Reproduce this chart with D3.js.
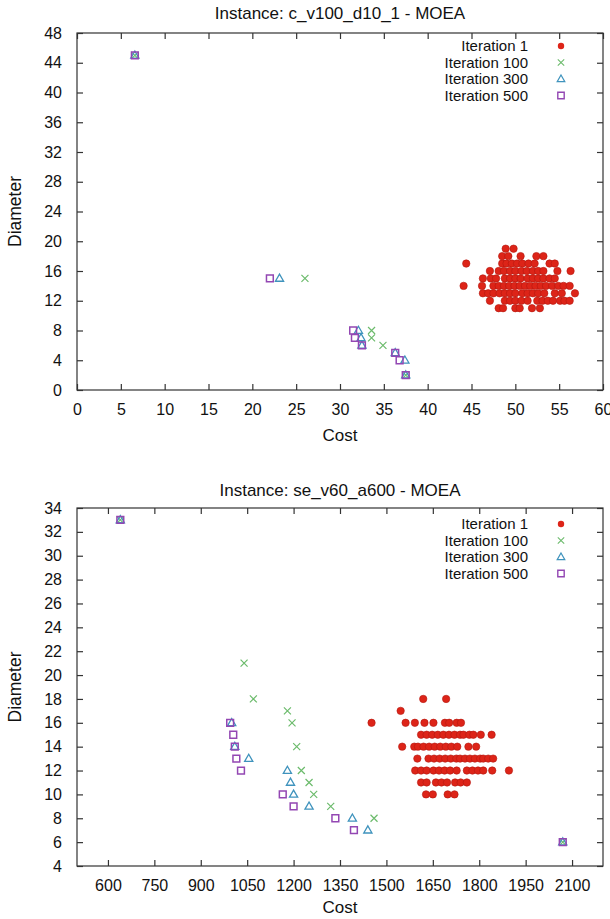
<!DOCTYPE html>
<html>
<head>
<meta charset="utf-8">
<script src="https://cdn.jsdelivr.net/npm/d3@7"></script>
<style>
  body { margin: 0; background: #fff; }
  text { font-family: "Liberation Sans", Arial, sans-serif; fill: #111; }
</style>
</head>
<body>
<div id="chart"></div>
<script>
var series_names = ['Iteration 1', 'Iteration 100', 'Iteration 300', 'Iteration 500'];

// ---- top panel: c_v100_d10_1 ----
var top_title = 'Instance: c_v100_d10_1 - MOEA';
var top_x_ticks = [0, 5, 10, 15, 20, 25, 30, 35, 40, 45, 50, 55, 60];
var top_y_ticks = [0, 4, 8, 12, 16, 20, 24, 28, 32, 36, 40, 44, 48];

// iteration 1 cloud, one row per diameter: [diameter, [costs]]
var top_iter1_rows = [
  [19, [48.9, 49.8]],
  [18, [48.5, 49.2, 50.6, 52.4, 53.2]],
  [17, [44.4, 48.5, 49.0, 49.6, 50.2, 50.8, 51.5, 52.2, 53.9, 54.5]],
  [16, [47.1, 48.1, 48.7, 49.4, 50.0, 50.7, 51.3, 52.0, 52.6, 53.2, 54.8, 56.3]],
  [15, [46.3, 47.2, 47.8, 48.8, 49.4, 50.0, 50.6, 51.4, 52.0, 52.6, 53.2, 53.9, 54.5]],
  [14, [44.1, 46.2, 47.5, 48.1, 48.7, 49.3, 49.9, 50.5, 51.1, 51.7, 52.3, 52.9, 53.5, 54.2, 54.9, 55.5, 56.2]],
  [13, [46.3, 46.9, 47.5, 48.2, 48.8, 49.4, 50.0, 50.8, 51.4, 52.0, 52.6, 53.3, 54.5, 55.3, 56.8]],
  [12, [47.1, 48.8, 49.4, 50.0, 50.7, 51.4, 52.5, 53.1, 53.7, 54.3, 55.1, 55.6, 56.2]],
  [11, [48.1, 48.6, 50.0, 50.5, 51.9, 52.8]]
];
var top_iter100 = [[6.6, 45], [26.0, 15], [33.6, 8], [33.6, 7], [34.9, 6], [37.5, 2]];
var top_iter300 = [[6.6, 45], [23.1, 15], [32.1, 8], [32.4, 7], [32.5, 6], [36.3, 5], [37.4, 4], [37.5, 2]];
var top_iter500 = [[6.6, 45], [22.0, 15], [31.5, 8], [31.7, 7], [32.5, 6], [36.3, 5], [36.8, 4], [37.5, 2]];

// ---- bottom panel: se_v60_a600 ----
var bot_title = 'Instance: se_v60_a600 - MOEA';
var bot_x_ticks = [600, 750, 900, 1050, 1200, 1350, 1500, 1650, 1800, 1950, 2100];
var bot_y_ticks = [4, 6, 8, 10, 12, 14, 16, 18, 20, 22, 24, 26, 28, 30, 32, 34];

var bot_iter1_rows = [
  [18, [1619, 1693]],
  [17, [1546]],
  [16, [1452, 1562, 1592, 1623, 1652, 1689, 1703, 1727, 1741]],
  [15, [1612, 1630, 1648, 1666, 1684, 1702, 1720, 1738, 1749, 1768, 1781, 1805, 1840]],
  [14, [1551, 1590, 1602, 1620, 1638, 1656, 1674, 1692, 1710, 1729, 1765, 1790]],
  [13, [1600, 1636, 1654, 1672, 1690, 1708, 1726, 1738, 1754, 1770, 1786, 1803, 1813, 1829, 1845]],
  [12, [1593, 1612, 1630, 1652, 1670, 1688, 1706, 1727, 1760, 1778, 1796, 1813, 1842, 1896]],
  [11, [1612, 1630, 1660, 1678, 1696, 1722, 1740, 1760]],
  [10, [1628, 1650, 1698, 1720]]
];
var bot_iter100 = [[640, 33], [1040, 21], [1070, 18], [1180, 17], [1195, 16], [1210, 14], [1225, 12],
                   [1250, 11], [1265, 10], [1320, 9], [1460, 8], [2070, 6]];
var bot_iter300 = [[640, 33], [1000, 16], [1010, 14], [1055, 13], [1180, 12], [1190, 11], [1200, 10],
                   [1250, 9], [1390, 8], [1440, 7], [2070, 6]];
var bot_iter500 = [[640, 33], [995, 16], [1005, 15], [1010, 14], [1015, 13], [1030, 12], [1165, 10],
                   [1200, 9], [1335, 8], [1395, 7], [2070, 6]];

var color_iter1 = '#dd2418';
var color_iter100 = '#6cbb6c';
var color_iter300 = '#3f93bd';
var color_iter500 = '#9347b3';
var color_frame = '#333';
var tick_len = 6;

function flatRows(rows) {
  var out = [];
  rows.forEach(function(r) { r[1].forEach(function(c) { out.push([c, r[0]]); }); });
  return out;
}

function markX(s) { return 'M' + (-s) + ',' + (-s) + 'L' + s + ',' + s + 'M' + (-s) + ',' + s + 'L' + s + ',' + (-s); }
function markTri(s) { return 'M0,' + (-s) + 'L' + (s * 0.95) + ',' + (s * 0.65) + 'L' + (-s * 0.95) + ',' + (s * 0.65) + 'Z'; }
function markSq(s) { return 'M' + (-s) + ',' + (-s) + 'h' + (2 * s) + 'v' + (2 * s) + 'h' + (-2 * s) + 'Z'; }

var svg = d3.select('#chart').append('svg')
  .attr('width', 610).attr('height', 919).attr('viewBox', '0 0 610 919');

function drawPanel(cfg) {
  var g = svg.append('g').attr('class', 'panel');
  var x = d3.scaleLinear().domain(cfg.xdomain).range([cfg.left, cfg.right]);
  var y = d3.scaleLinear().domain(cfg.ydomain).range([cfg.bottom, cfg.top]);
  var fmt = d3.format('d');

  // frame
  g.append('rect')
    .attr('x', cfg.left).attr('y', cfg.top)
    .attr('width', cfg.right - cfg.left).attr('height', cfg.bottom - cfg.top)
    .attr('fill', 'none').attr('stroke', color_frame).attr('stroke-width', 1.2);

  // inward, mirrored ticks
  g.append('g').attr('transform', 'translate(0,' + cfg.bottom + ')')
    .call(d3.axisBottom(x).tickValues(cfg.xticks).tickFormat(fmt).tickSize(-tick_len).tickPadding(tick_len + 8))
    .call(function(a) { a.select('.domain').remove(); });
  g.append('g').attr('transform', 'translate(0,' + cfg.top + ')')
    .call(d3.axisTop(x).tickValues(cfg.xticks).tickSize(-tick_len).tickFormat(''))
    .call(function(a) { a.select('.domain').remove(); });
  g.append('g').attr('transform', 'translate(' + cfg.left + ',0)')
    .call(d3.axisLeft(y).tickValues(cfg.yticks).tickFormat(fmt).tickSize(-tick_len).tickPadding(tick_len + 9))
    .call(function(a) { a.select('.domain').remove(); });
  g.append('g').attr('transform', 'translate(' + cfg.right + ',0)')
    .call(d3.axisRight(y).tickValues(cfg.yticks).tickSize(-tick_len).tickFormat(''))
    .call(function(a) { a.select('.domain').remove(); });

  g.selectAll('.tick line').attr('stroke', color_frame).attr('stroke-width', 1.2);
  g.selectAll('.tick text').attr('font-size', 16).attr('fill', '#111')
    .attr('font-family', '"Liberation Sans", Arial, sans-serif');

  // titles
  g.append('text').attr('x', (cfg.left + cfg.right) / 2).attr('y', cfg.titleY)
    .attr('text-anchor', 'middle').attr('font-size', 17).text(cfg.title);
  g.append('text').attr('x', (cfg.left + cfg.right) / 2).attr('y', cfg.bottom + cfg.costGap)
    .attr('text-anchor', 'middle').attr('font-size', 17).text('Cost');
  g.append('text')
    .attr('transform', 'translate(21,' + ((cfg.top + cfg.bottom) / 2) + ') rotate(-90)')
    .attr('text-anchor', 'middle').attr('font-size', 17.5).text('Diameter');

  // points
  var pts = g.append('g').attr('class', 'points');
  pts.selectAll('circle.it1').data(cfg.iter1).enter().append('circle')
    .attr('class', 'it1')
    .attr('cx', function(d) { return x(d[0]); }).attr('cy', function(d) { return y(d[1]); })
    .attr('r', 3.7).attr('fill', color_iter1).attr('stroke', '#b3170f').attr('stroke-width', 0.6);
  pts.selectAll('path.it100').data(cfg.iter100).enter().append('path')
    .attr('class', 'it100').attr('d', markX(3.5))
    .attr('transform', function(d) { return 'translate(' + x(d[0]) + ',' + y(d[1]) + ')'; })
    .attr('fill', 'none').attr('stroke', color_iter100).attr('stroke-width', 1.2);
  pts.selectAll('path.it300').data(cfg.iter300).enter().append('path')
    .attr('class', 'it300').attr('d', markTri(4.3))
    .attr('transform', function(d) { return 'translate(' + x(d[0]) + ',' + y(d[1]) + ')'; })
    .attr('fill', 'none').attr('stroke', color_iter300).attr('stroke-width', 1.3);
  pts.selectAll('path.it500').data(cfg.iter500).enter().append('path')
    .attr('class', 'it500').attr('d', markSq(3.4))
    .attr('transform', function(d) { return 'translate(' + x(d[0]) + ',' + y(d[1]) + ')'; })
    .attr('fill', 'none').attr('stroke', color_iter500).attr('stroke-width', 1.5);

  // legend
  var leg = g.append('g').attr('class', 'legend');
  var marks = [
    function(s) { s.append('circle').attr('r', 3.2).attr('fill', color_iter1); },
    function(s) { s.append('path').attr('d', markX(3.2)).attr('fill', 'none').attr('stroke', color_iter100).attr('stroke-width', 1.1); },
    function(s) { s.append('path').attr('d', markTri(4)).attr('fill', 'none').attr('stroke', color_iter300).attr('stroke-width', 1.2); },
    function(s) { s.append('path').attr('d', markSq(3.2)).attr('fill', 'none').attr('stroke', color_iter500).attr('stroke-width', 1.4); }
  ];
  series_names.forEach(function(name, i) {
    var ly = cfg.top + cfg.legendTop + i * 16.5;
    leg.append('text').attr('x', 528).attr('y', ly).attr('dy', '0.35em')
      .attr('text-anchor', 'end').attr('font-size', 15).text(name);
    var m = leg.append('g').attr('transform', 'translate(561,' + ly + ')');
    marks[i](m);
  });
}

drawPanel({
  title: top_title, titleY: 19, left: 77, right: 603, top: 33, bottom: 390, costGap: 51,
  xdomain: [0, 60], ydomain: [0, 48], xticks: top_x_ticks, yticks: top_y_ticks,
  iter1: flatRows(top_iter1_rows), iter100: top_iter100, iter300: top_iter300, iter500: top_iter500,
  legendTop: 13
});

drawPanel({
  title: bot_title, titleY: 496, left: 77, right: 603, top: 508, bottom: 866, costGap: 47,
  xdomain: [500, 2200], ydomain: [4, 34], xticks: bot_x_ticks, yticks: bot_y_ticks,
  iter1: flatRows(bot_iter1_rows), iter100: bot_iter100, iter300: bot_iter300, iter500: bot_iter500,
  legendTop: 16
});
</script>
</body>
</html>
